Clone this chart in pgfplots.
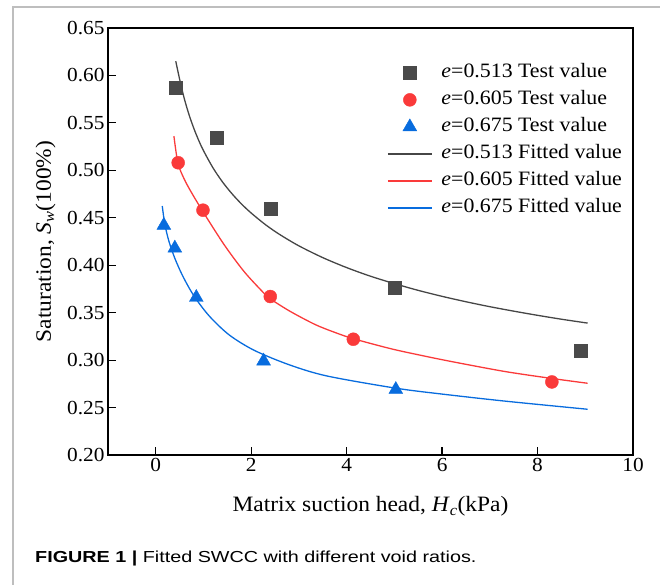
\documentclass[border=0pt]{standalone}
\usepackage{fontspec}
\setmainfont{Liberation Serif}[FakeStretch=1.07]
\newfontfamily\capfont{Liberation Sans}[FakeStretch=1.24]
\usepackage{pgfplots}
\pgfplotsset{compat=1.18}
\definecolor{cblk}{RGB}{74,74,74}
\definecolor{cblkl}{RGB}{70,70,70}
\definecolor{cred}{RGB}{250,58,58}
\definecolor{cblu}{RGB}{8,108,222}
\definecolor{frame}{RGB}{190,190,190}
\begin{document}
\begin{tikzpicture}
\useasboundingbox (0bp,0bp) rectangle (660bp,585bp);
\draw[frame,line width=2bp] (13bp,0bp) -- (13bp,578bp) -- (660bp,578bp);
\node[anchor=base west,inner sep=0pt] at (35bp,23bp) {\capfont\fontsize{16}{19}\selectfont\textbf{FIGURE 1 |} Fitted SWCC with different void ratios.};
\begin{axis}[
  at={(108bp,130bp)}, anchor=south west,
  scale only axis, width=525bp, height=427bp,
  xmin=-1, xmax=10, ymin=0.2, ymax=0.65,
  xtick={0,2,4,6,8,10},
  ytick={0.20,0.25,0.30,0.35,0.40,0.45,0.50,0.55,0.60,0.65},
  yticklabel style={/pgf/number format/.cd,fixed,fixed zerofill,precision=2},
  /pgf/number format/assume math mode=true,
  tick align=inside, tick pos=left,
  major tick length=8bp,
  axis line style={black,line width=1.2bp},
  every tick/.append style={black,line width=1.2bp},
  tick label style={font=\fontsize{20}{24}\selectfont},
  xlabel={Matrix suction head, \textit{H}\textsubscript{\textit{c}}(kPa)},
  ylabel={Saturation, \textit{S}\textsubscript{\textit{w}}(100\%)},
  xlabel style={at={(rel axis cs:0.5,0)}, anchor=base, yshift=-57bp, font=\fontsize{22}{26}\selectfont},
  ylabel style={at={(rel axis cs:0,0.5)}, anchor=base, yshift=57bp, font=\fontsize{22}{26}\selectfont},
  legend image code/.code={\path (0bp,0bp) (51bp,0bp);\draw[mark repeat=2,mark phase=2,#1] plot coordinates {(0bp,0bp) (22bp,0bp) (44bp,0bp)};},
  legend style={draw=none, fill=none, at={(rel axis cs:0.5314,0.920)}, anchor=north west,
    font=\fontsize{20.5}{24}\selectfont, row sep=6bp, inner sep=0pt,
    nodes={inner sep=2bp, text height=13bp, text depth=4bp}},
  legend cell align=left,
]
% test values
\addplot[only marks, mark=square*, mark size=6.5bp, draw=cblk, fill=cblk] coordinates {
(0.42,0.587) (1.28,0.534) (2.40,0.460) (5.0,0.376) (8.9,0.310)};
\addlegendentry{\textit{e}=0.513 Test value}
\addplot[only marks, mark=*, mark size=6.5bp, draw=cred, fill=cred] coordinates {
(0.47,0.508) (0.99,0.458) (2.40,0.367) (4.14,0.322) (8.3,0.277)};
\addlegendentry{\textit{e}=0.605 Test value}
\addplot[only marks, mark=triangle*, mark size=8bp, draw=cblu, fill=cblu] coordinates {
(0.17,0.442) (0.40,0.418) (0.85,0.366) (2.26,0.299) (5.03,0.269)};
\addlegendentry{\textit{e}=0.675 Test value}
% fitted curves
\addplot[draw=cblkl, line width=1.3bp, smooth] coordinates {
(0.42,0.615) (0.5,0.5962) (0.6,0.5753) (0.7,0.5583) (0.8,0.5440) (0.9,0.5316)
(1.0,0.5208) (1.2,0.5026) (1.4,0.4877) (1.6,0.4752) (1.8,0.4644) (2.0,0.4550)
(2.3,0.4427) (2.6,0.4323) (3.0,0.4204) (3.5,0.4080) (4.0,0.3975) (4.5,0.3884)
(5.0,0.3806) (5.5,0.3735) (6.0,0.3672) (6.5,0.3615) (7.0,0.3563) (7.5,0.3516)
(8.0,0.3472) (8.5,0.3431) (9.05,0.3390)};
\addlegendentry{\textit{e}=0.513 Fitted value}
\addplot[draw=cred, line width=1.3bp, smooth] coordinates {
(0.381,0.5361) (0.465,0.5077) (0.592,0.4913) (0.740,0.4774) (0.994,0.4561)
(1.438,0.4213) (1.860,0.3928) (2.283,0.3697) (2.389,0.3649) (2.812,0.3515)
(3.340,0.3375) (3.763,0.3290) (4.144,0.3225) (4.926,0.3120) (5.560,0.3050)
(6.195,0.2985) (7.315,0.2880) (8.309,0.2806) (9.049,0.2756)};
\addlegendentry{\textit{e}=0.605 Fitted value}
\addplot[draw=cblu, line width=1.3bp, smooth] coordinates {
(0.137,0.4624) (0.190,0.4434) (0.275,0.4255) (0.402,0.4071) (0.571,0.3881)
(0.803,0.3675) (1.121,0.3465) (1.543,0.3264) (2.072,0.3101) (2.812,0.2948)
(3.594,0.2832) (5.032,0.2704) (5.983,0.2643) (7.315,0.2568) (9.049,0.2482)};
\addlegendentry{\textit{e}=0.675 Fitted value}
\end{axis}
\end{tikzpicture}
\end{document}
